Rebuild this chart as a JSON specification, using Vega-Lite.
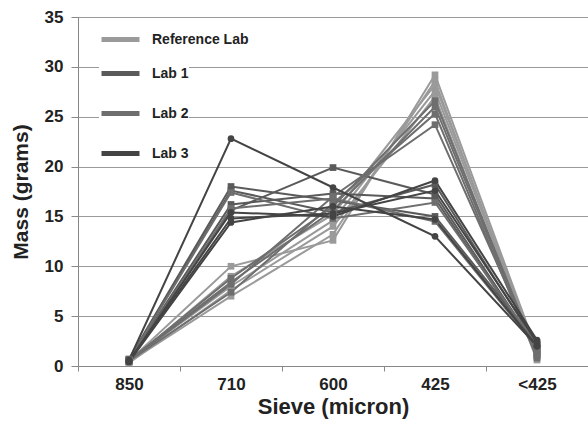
{
  "$schema": "https://vega.github.io/schema/vega-lite/v6.json",
  "width": 510,
  "height": 349,
  "autosize": {"type": "none"},
  "padding": {"left": 78, "top": 17, "right": 0, "bottom": 64},
  "background": "white",
  "config": {
    "font": "Liberation Sans",
    "view": {"stroke": "#999", "strokeWidth": 1},
    "legend": {
      "title": null,
      "orient": "none",
      "padding": 0,
      "fillColor": "white",
      "symbolType": "stroke",
      "symbolSize": 1444,
      "symbolStrokeWidth": 5,
      "rowPadding": 8,
      "labelOffset": 10,
      "labelFont": "Liberation Sans",
      "labelFontSize": 14,
      "labelFontWeight": "bold",
      "labelColor": "#222"
    }
  },
  "data": {
    "values": [
      {"run": "R1", "lab": "Reference Lab", "sieve": "850", "mass": 0.5},
      {"run": "R1", "lab": "Reference Lab", "sieve": "710", "mass": 10.0},
      {"run": "R1", "lab": "Reference Lab", "sieve": "600", "mass": 12.6},
      {"run": "R1", "lab": "Reference Lab", "sieve": "425", "mass": 29.2},
      {"run": "R1", "lab": "Reference Lab", "sieve": "<425", "mass": 1.5},
      {"run": "R2", "lab": "Reference Lab", "sieve": "850", "mass": 0.4},
      {"run": "R2", "lab": "Reference Lab", "sieve": "710", "mass": 7.0},
      {"run": "R2", "lab": "Reference Lab", "sieve": "600", "mass": 13.2},
      {"run": "R2", "lab": "Reference Lab", "sieve": "425", "mass": 28.6},
      {"run": "R2", "lab": "Reference Lab", "sieve": "<425", "mass": 1.0},
      {"run": "R3", "lab": "Reference Lab", "sieve": "850", "mass": 0.5},
      {"run": "R3", "lab": "Reference Lab", "sieve": "710", "mass": 8.0},
      {"run": "R3", "lab": "Reference Lab", "sieve": "600", "mass": 14.6},
      {"run": "R3", "lab": "Reference Lab", "sieve": "425", "mass": 27.6},
      {"run": "R3", "lab": "Reference Lab", "sieve": "<425", "mass": 1.2},
      {"run": "R4", "lab": "Reference Lab", "sieve": "850", "mass": 0.4},
      {"run": "R4", "lab": "Reference Lab", "sieve": "710", "mass": 9.0},
      {"run": "R4", "lab": "Reference Lab", "sieve": "600", "mass": 15.2},
      {"run": "R4", "lab": "Reference Lab", "sieve": "425", "mass": 28.2},
      {"run": "R4", "lab": "Reference Lab", "sieve": "<425", "mass": 1.4},
      {"run": "R5", "lab": "Reference Lab", "sieve": "850", "mass": 0.3},
      {"run": "R5", "lab": "Reference Lab", "sieve": "710", "mass": 7.6},
      {"run": "R5", "lab": "Reference Lab", "sieve": "600", "mass": 14.0},
      {"run": "R5", "lab": "Reference Lab", "sieve": "425", "mass": 27.0},
      {"run": "R5", "lab": "Reference Lab", "sieve": "<425", "mass": 0.6},
      {"run": "A1", "lab": "Lab 1", "sieve": "850", "mass": 0.5},
      {"run": "A1", "lab": "Lab 1", "sieve": "710", "mass": 15.6},
      {"run": "A1", "lab": "Lab 1", "sieve": "600", "mass": 19.9},
      {"run": "A1", "lab": "Lab 1", "sieve": "425", "mass": 17.2},
      {"run": "A1", "lab": "Lab 1", "sieve": "<425", "mass": 1.8},
      {"run": "A2", "lab": "Lab 1", "sieve": "850", "mass": 0.7},
      {"run": "A2", "lab": "Lab 1", "sieve": "710", "mass": 18.0},
      {"run": "A2", "lab": "Lab 1", "sieve": "600", "mass": 16.6},
      {"run": "A2", "lab": "Lab 1", "sieve": "425", "mass": 15.0},
      {"run": "A2", "lab": "Lab 1", "sieve": "<425", "mass": 2.3},
      {"run": "A3", "lab": "Lab 1", "sieve": "850", "mass": 0.6},
      {"run": "A3", "lab": "Lab 1", "sieve": "710", "mass": 17.6},
      {"run": "A3", "lab": "Lab 1", "sieve": "600", "mass": 15.4},
      {"run": "A3", "lab": "Lab 1", "sieve": "425", "mass": 18.2},
      {"run": "A3", "lab": "Lab 1", "sieve": "<425", "mass": 2.1},
      {"run": "A4", "lab": "Lab 1", "sieve": "850", "mass": 0.6},
      {"run": "A4", "lab": "Lab 1", "sieve": "710", "mass": 16.2},
      {"run": "A4", "lab": "Lab 1", "sieve": "600", "mass": 17.3},
      {"run": "A4", "lab": "Lab 1", "sieve": "425", "mass": 16.8},
      {"run": "A4", "lab": "Lab 1", "sieve": "<425", "mass": 1.6},
      {"run": "B1", "lab": "Lab 2", "sieve": "850", "mass": 0.6},
      {"run": "B1", "lab": "Lab 2", "sieve": "710", "mass": 17.4},
      {"run": "B1", "lab": "Lab 2", "sieve": "600", "mass": 14.8},
      {"run": "B1", "lab": "Lab 2", "sieve": "425", "mass": 16.4},
      {"run": "B1", "lab": "Lab 2", "sieve": "<425", "mass": 2.0},
      {"run": "B2", "lab": "Lab 2", "sieve": "850", "mass": 0.5},
      {"run": "B2", "lab": "Lab 2", "sieve": "710", "mass": 15.8},
      {"run": "B2", "lab": "Lab 2", "sieve": "600", "mass": 16.8},
      {"run": "B2", "lab": "Lab 2", "sieve": "425", "mass": 14.5},
      {"run": "B2", "lab": "Lab 2", "sieve": "<425", "mass": 1.9},
      {"run": "B3", "lab": "Lab 2", "sieve": "850", "mass": 0.6},
      {"run": "B3", "lab": "Lab 2", "sieve": "710", "mass": 8.4},
      {"run": "B3", "lab": "Lab 2", "sieve": "600", "mass": 15.6},
      {"run": "B3", "lab": "Lab 2", "sieve": "425", "mass": 26.0},
      {"run": "B3", "lab": "Lab 2", "sieve": "<425", "mass": 1.0},
      {"run": "B4", "lab": "Lab 2", "sieve": "850", "mass": 0.5},
      {"run": "B4", "lab": "Lab 2", "sieve": "710", "mass": 7.4},
      {"run": "B4", "lab": "Lab 2", "sieve": "600", "mass": 16.3},
      {"run": "B4", "lab": "Lab 2", "sieve": "425", "mass": 25.3},
      {"run": "B4", "lab": "Lab 2", "sieve": "<425", "mass": 0.8},
      {"run": "B5", "lab": "Lab 2", "sieve": "850", "mass": 0.5},
      {"run": "B5", "lab": "Lab 2", "sieve": "710", "mass": 8.2},
      {"run": "B5", "lab": "Lab 2", "sieve": "600", "mass": 17.0},
      {"run": "B5", "lab": "Lab 2", "sieve": "425", "mass": 24.2},
      {"run": "B5", "lab": "Lab 2", "sieve": "<425", "mass": 1.3},
      {"run": "B6", "lab": "Lab 2", "sieve": "850", "mass": 0.5},
      {"run": "B6", "lab": "Lab 2", "sieve": "710", "mass": 8.8},
      {"run": "B6", "lab": "Lab 2", "sieve": "600", "mass": 16.0},
      {"run": "B6", "lab": "Lab 2", "sieve": "425", "mass": 26.6},
      {"run": "B6", "lab": "Lab 2", "sieve": "<425", "mass": 1.1},
      {"run": "C1", "lab": "Lab 3", "sieve": "850", "mass": 0.6},
      {"run": "C1", "lab": "Lab 3", "sieve": "710", "mass": 22.8},
      {"run": "C1", "lab": "Lab 3", "sieve": "600", "mass": 17.9},
      {"run": "C1", "lab": "Lab 3", "sieve": "425", "mass": 13.0},
      {"run": "C1", "lab": "Lab 3", "sieve": "<425", "mass": 2.0},
      {"run": "C2", "lab": "Lab 3", "sieve": "850", "mass": 0.5},
      {"run": "C2", "lab": "Lab 3", "sieve": "710", "mass": 15.4},
      {"run": "C2", "lab": "Lab 3", "sieve": "600", "mass": 15.0},
      {"run": "C2", "lab": "Lab 3", "sieve": "425", "mass": 18.6},
      {"run": "C2", "lab": "Lab 3", "sieve": "<425", "mass": 2.6},
      {"run": "C3", "lab": "Lab 3", "sieve": "850", "mass": 0.4},
      {"run": "C3", "lab": "Lab 3", "sieve": "710", "mass": 14.4},
      {"run": "C3", "lab": "Lab 3", "sieve": "600", "mass": 16.0},
      {"run": "C3", "lab": "Lab 3", "sieve": "425", "mass": 14.7},
      {"run": "C3", "lab": "Lab 3", "sieve": "<425", "mass": 2.0},
      {"run": "C4", "lab": "Lab 3", "sieve": "850", "mass": 0.5},
      {"run": "C4", "lab": "Lab 3", "sieve": "710", "mass": 14.8},
      {"run": "C4", "lab": "Lab 3", "sieve": "600", "mass": 15.3},
      {"run": "C4", "lab": "Lab 3", "sieve": "425", "mass": 17.6},
      {"run": "C4", "lab": "Lab 3", "sieve": "<425", "mass": 2.4}
    ]
  },
  "encoding": {
    "x": {
      "field": "sieve",
      "type": "ordinal",
      "sort": ["850", "710", "600", "425", "<425"],
      "scale": {"type": "band", "paddingInner": 0, "paddingOuter": 0},
      "axis": {
        "title": "Sieve (micron)",
        "labelAngle": 0,
        "tickBand": "extent",
        "tickSize": 5,
        "tickColor": "#888",
        "domainColor": "#888",
        "labelFont": "Liberation Sans",
        "labelFontSize": 17,
        "labelFontWeight": "bold",
        "labelColor": "#222",
        "labelPadding": 5,
        "titleFont": "Liberation Sans",
        "titleFontSize": 22,
        "titleFontWeight": "bold",
        "titleColor": "#222",
        "titlePadding": 4
      }
    },
    "y": {
      "field": "mass",
      "type": "quantitative",
      "scale": {"domain": [0, 35], "nice": false},
      "axis": {
        "title": "Mass (grams)",
        "values": [0, 5, 10, 15, 20, 25, 30, 35],
        "grid": true,
        "gridColor": "#999",
        "tickSize": 7,
        "tickColor": "#888",
        "domainColor": "#888",
        "labelFont": "Liberation Sans",
        "labelFontSize": 17,
        "labelFontWeight": "bold",
        "labelColor": "#222",
        "labelPadding": 8,
        "titleFont": "Liberation Sans",
        "titleFontSize": 21,
        "titleFontWeight": "bold",
        "titleColor": "#222",
        "titlePadding": 13
      }
    },
    "detail": {"field": "run"}
  },
  "layer": [
    {
      "transform": [{"filter": "datum.lab == 'Reference Lab'"}],
      "mark": {"type": "line", "strokeWidth": 2},
      "encoding": {
        "color": {
          "field": "lab",
          "type": "nominal",
          "scale": {"domain": ["Reference Lab"], "range": ["#9a9a9a"]},
          "legend": {"legendX": 21, "legendY": 1}
        }
      }
    },
    {
      "transform": [{"filter": "datum.lab != 'Reference Lab'"}],
      "mark": {"type": "line", "strokeWidth": 2},
      "encoding": {
        "stroke": {
          "field": "lab",
          "type": "nominal",
          "scale": {"domain": ["Lab 1", "Lab 2", "Lab 3"], "range": ["#5a5a5a", "#6e6e6e", "#444444"]},
          "legend": {"legendX": 21, "legendY": 35}
        }
      }
    },
    {
      "mark": {"type": "point", "filled": true, "size": 45, "opacity": 1},
      "encoding": {
        "fill": {
          "field": "lab",
          "type": "nominal",
          "scale": {
            "domain": ["Reference Lab", "Lab 1", "Lab 2", "Lab 3"],
            "range": ["#9a9a9a", "#5a5a5a", "#6e6e6e", "#444444"]
          },
          "legend": null
        },
        "shape": {
          "field": "lab",
          "type": "nominal",
          "scale": {
            "domain": ["Reference Lab", "Lab 1", "Lab 2", "Lab 3"],
            "range": ["square", "square", "square", "circle"]
          },
          "legend": null
        }
      }
    }
  ]
}
